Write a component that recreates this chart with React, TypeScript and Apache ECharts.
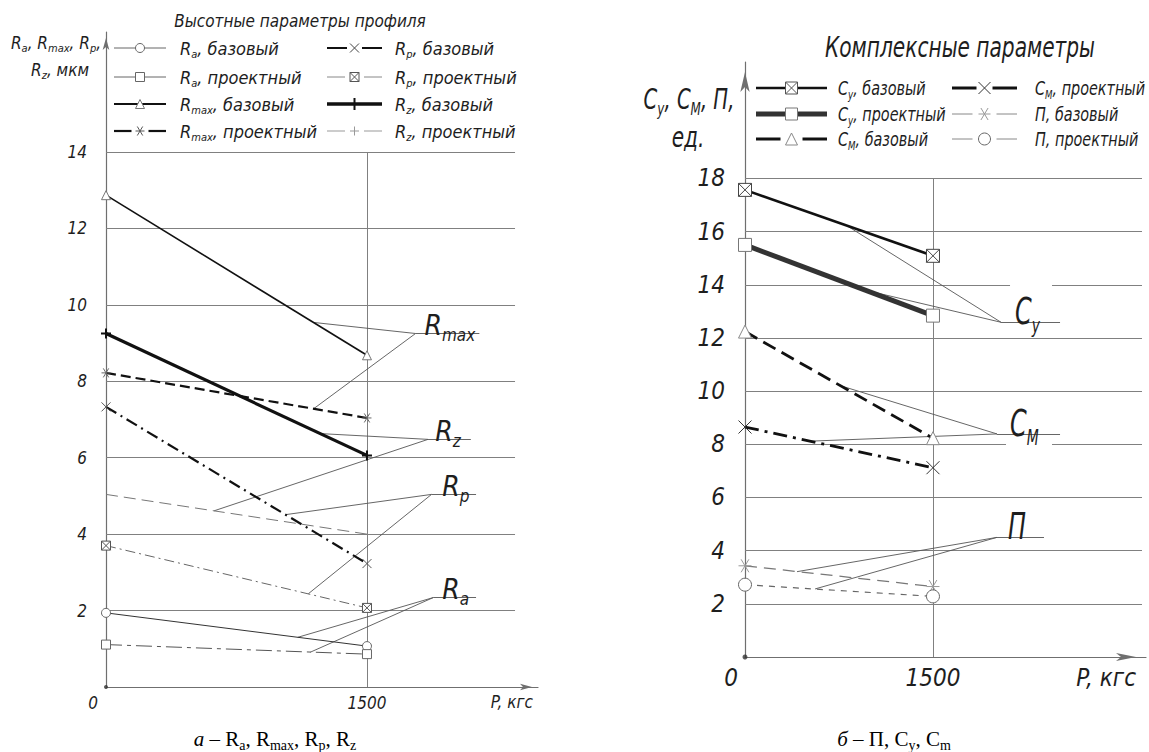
import { useEffect, useRef } from 'react';
import * as echarts from 'echarts';

const FONT = "'Liberation Sans Narrow', 'DejaVu Sans Condensed', 'Liberation Sans', sans-serif";
const SERIF = "'Liberation Serif', 'DejaVu Serif', 'Times New Roman', serif";
const AXIS_COLOR = '#6f6f6f';
const GRID_COLOR = '#808080';
const TEXT_COLOR = '#1e1e1e';

// load P, kgf (shared by both panels)
const loads = [0, 1500];

// Left panel: height parameters of the profile, µm
const raBase = [1.94, 1.07];
const raProj = [1.11, 0.86];
const rmaxBase = [12.87, 8.68];
const rmaxProj = [8.22, 7.04];
const rpBase = [7.33, 3.23];
const rpProj = [3.7, 2.07];
const rzBase = [9.25, 6.06];
const rzProj = [5.04, 4.0];
const leftTicks = [2, 4, 6, 8, 10, 12, 14];

// Right panel: complex parameters
const cyBase = [17.57, 15.09];
const cyProj = [15.5, 12.84];
const cmBase = [12.24, 8.23];
const cmProj = [8.65, 7.12];
const pBase = [3.43, 2.65];
const pProj = [2.72, 2.28];
const rightTicks = [2, 4, 6, 8, 10, 12, 14, 16, 18];

// axis extents (data units)
const LX = { xMax: 2483, gridEnd: 2351, yMax: 17.14, vTop: 14 };
const RX = { xMax: 3200, gridEnd: 3168, yMax: 22.38, vTop: 18 };
const rightGaps: Record<number, number[]> = { 14: [2115, 2450], 8: [2083, 2450] };

// callout leaders (data units): underline start, underline end, text start, leader targets
const leftCallouts = [
  { sub: 'max', base: [1779, 9.25], end: 2146, textX: 1830, targets: [[1193, 9.54], [1193, 7.28]] },
  { sub: 'z', base: [1851, 6.48], end: 2097, textX: 1892, targets: [[1236, 6.63], [621, 4.61]] },
  { sub: 'p', base: [1871, 5.04], end: 2127, textX: 1932, targets: [[1032, 4.51], [1163, 2.44]] },
  { sub: 'a', base: [1881, 2.34], end: 2127, textX: 1932, targets: [[1102, 1.3], [1174, 0.91]] },
];
const rightCallouts = [
  { main: 'C', sub: 'y', base: [2043, 12.59], end: 2514, textX: 2155, targets: [[814, 16.22], [958, 13.8]] },
  { main: 'C', sub: 'M', base: [2011, 8.39], end: 2514, textX: 2115, targets: [[758, 10.21], [527, 8.12]] },
  { main: 'П', sub: '', base: [2011, 4.5], end: 2386, textX: 2099, targets: [[415, 3.21], [559, 2.56]] },
];

const SYM = {
  x: 'path://M0 0 L10 10 M0 10 L10 0',
  plus: 'path://M5 0 L5 10 M0 5 L10 5',
  boxX: 'path://M0 0 L10 0 L10 10 L0 10 Z M0 0 L10 10 M0 10 L10 0',
  star: 'path://M0 5 L10 5 M2 0 L8 10 M2 10 L8 0',
};

function lineSeries(name: string, idx: number, vals: number[], color: string, width: number, type: any,
  symbol: string, size: number, mkColor: string, mkWidth = 1) {
  return {
    type: 'line', name, xAxisIndex: idx, yAxisIndex: idx, silent: true, z: 5,
    data: loads.map((x, i) => [x, vals[i]]),
    symbol, symbolSize: size, showSymbol: symbol !== 'none',
    lineStyle: { color, width, type, cap: 'butt' },
    itemStyle: { color: '#fff', borderColor: mkColor, borderWidth: mkWidth },
    emphasis: { disabled: true },
  };
}

function segSeries(idx: number, segs: number[][][], color: string, width: number, z = 1) {
  return {
    type: 'lines', coordinateSystem: 'cartesian2d', xAxisIndex: idx, yAxisIndex: idx, silent: true, z,
    polyline: false,
    lineStyle: { color, width, opacity: 1, curveness: 0 },
    data: segs.map((c) => ({ coords: c })),
  };
}

function gridSegs(ticks: number[], end: number, vTop: number, gaps: Record<number, number[]>) {
  const out: number[][][] = [];
  ticks.forEach((v) => {
    const g = gaps[v];
    if (g) {
      out.push([[0, v], [g[0], v]]);
      out.push([[g[1], v], [end, v]]);
    } else out.push([[0, v], [end, v]]);
  });
  out.push([[1500, 0], [1500, vTop]]);
  return out;
}

function leaderSegs(callouts: any[]) {
  const out: number[][][] = [];
  callouts.forEach((c) => {
    out.push([[c.base[0], c.base[1]], [c.end, c.base[1]]]);
    c.targets.forEach((t: number[]) => out.push([[c.base[0], c.base[1]], t]));
  });
  return out;
}

const lblFont = (fs: number) => ({ fontFamily: FONT, fontStyle: 'italic', fontSize: fs, color: TEXT_COLOR });

function buildOption(): any {
  return {
    animation: false,
    backgroundColor: '#fff',
    grid: [
      { left: 106, top: 32, width: 432, height: 655 },
      { left: 745, top: 62, width: 401, height: 595 },
    ],
    xAxis: [
      {
        gridIndex: 0, type: 'value', min: 0, max: LX.xMax, interval: 1500,
        axisLine: { show: true, lineStyle: { color: AXIS_COLOR, width: 1.2 }, symbol: ['none', 'arrow'], symbolSize: [5, 12], symbolOffset: [0, -6] },
        axisTick: { show: false }, splitLine: { show: false },
        axisLabel: {
          ...lblFont(17), margin: 7,
          formatter: (v: number) => (v === 0 ? '{z|0}' : v === 1500 ? '1500' : ''),
          rich: { z: { ...lblFont(17), padding: [0, 26, 0, 0] } },
        },
      },
      {
        gridIndex: 1, type: 'value', min: 0, max: RX.xMax, interval: 1500,
        axisLine: { show: true, lineStyle: { color: AXIS_COLOR, width: 1.2 }, symbol: ['none', 'arrow'], symbolSize: [6, 20], symbolOffset: [0, -10] },
        axisTick: { show: false }, splitLine: { show: false },
        axisLabel: {
          ...lblFont(24), margin: 9,
          formatter: (v: number) => (v === 0 ? '{z|0}' : v === 1500 ? '1500' : ''),
          rich: { z: { ...lblFont(24), padding: [0, 28, 0, 0] } },
        },
      },
    ],
    yAxis: [
      {
        gridIndex: 0, type: 'value', min: 0, max: LX.yMax, interval: 2,
        axisLine: { show: true, lineStyle: { color: AXIS_COLOR, width: 1.2 }, symbol: ['none', 'arrow'], symbolSize: [5, 12], symbolOffset: [0, -6] },
        axisTick: { show: false }, splitLine: { show: false },
        axisLabel: { ...lblFont(17), margin: 19, formatter: (v: number) => (v > 0 && v <= 14 ? String(v) : '') },
      },
      {
        gridIndex: 1, type: 'value', min: 0, max: RX.yMax, interval: 2,
        axisLine: { show: true, lineStyle: { color: AXIS_COLOR, width: 1.2 }, symbol: ['none', 'arrow'], symbolSize: [7, 20], symbolOffset: [0, -10] },
        axisTick: { show: false }, splitLine: { show: false },
        axisLabel: { ...lblFont(24), margin: 20, formatter: (v: number) => (v > 0 && v <= 18 ? String(v) : '') },
      },
    ],
    series: [
      segSeries(0, gridSegs(leftTicks, LX.gridEnd, LX.vTop, {}), GRID_COLOR, 1),
      segSeries(1, gridSegs(rightTicks, RX.gridEnd, RX.vTop, rightGaps), GRID_COLOR, 1),
      segSeries(0, leaderSegs(leftCallouts), '#555', 0.9, 2),
      segSeries(1, leaderSegs(rightCallouts), '#555', 0.9, 2),

      lineSeries('Ra, базовый', 0, raBase, '#333', 1, 'solid', 'circle', 9, '#666'),
      lineSeries('Ra, проектный', 0, raProj, '#555', 1, [16, 5, 4, 5], 'rect', 9, '#666'),
      lineSeries('Rmax, базовый', 0, rmaxBase, '#111', 1.6, 'solid', 'triangle', 9, '#777'),
      lineSeries('Rmax, проектный', 0, rmaxProj, '#111', 2.2, [10, 5], SYM.star, 9, '#666'),
      lineSeries('Rp, базовый', 0, rpBase, '#111', 2.2, [12, 5, 2, 5], SYM.x, 9, '#555'),
      lineSeries('Rp, проектный', 0, rpProj, '#666', 1, [10, 4, 2, 4], SYM.boxX, 9, '#555'),
      lineSeries('Rz, базовый', 0, rzBase, '#111', 3.2, 'solid', SYM.plus, 10, '#111', 2),
      lineSeries('Rz, проектный', 0, rzProj, '#777', 1, [12, 6], 'none', 8, '#777'),

      lineSeries('Cy, базовый', 1, cyBase, '#111', 2.6, 'solid', SYM.boxX, 13, '#444'),
      lineSeries('Cy, проектный', 1, cyProj, '#333', 5, 'solid', 'rect', 13, '#777'),
      lineSeries('CM, базовый', 1, cmBase, '#111', 2.8, [14, 7], 'triangle', 13, '#888'),
      lineSeries('CM, проектный', 1, cmProj, '#111', 2.8, [14, 6, 3, 6], SYM.x, 13, '#333'),
      lineSeries('П, базовый', 1, pBase, '#777', 1.3, [12, 7], SYM.star, 13, '#999'),
      lineSeries('П, проектный', 1, pProj, '#666', 1.2, [6, 6], 'circle', 13, '#666'),

      { type: 'scatter', xAxisIndex: 0, yAxisIndex: 0, data: [[0, 0]], symbolSize: 4, itemStyle: { color: '#333' }, silent: true, z: 6 },
      { type: 'scatter', xAxisIndex: 1, yAxisIndex: 1, data: [[0, 0]], symbolSize: 5, itemStyle: { color: '#333' }, silent: true, z: 6 },
    ],
  };
}

// ---------- graphic helpers ----------
function richStyles(M: number, S: number, family = FONT, italic = true, fill = TEXT_COLOR) {
  const fs = italic ? 'italic' : 'normal';
  return {
    m: { fontSize: M, lineHeight: Math.round(M * 1.3), fontFamily: family, fontStyle: fs, fill },
    i: { fontSize: M, lineHeight: Math.round(M * 1.3), fontFamily: family, fontStyle: 'italic', fill },
    s: { fontSize: S, lineHeight: S, verticalAlign: 'bottom', fontFamily: family, fontStyle: fs, fill },
  };
}

function rtext(x: number, y: number, parts: string[][], M: number, S: number, align = 'left', vAlign = 'middle',
  opt: any = {}) {
  return {
    type: 'text', x, y, scaleX: opt.scaleX ?? 1, z: 60, silent: true,
    style: {
      text: parts.map(([t, k]) => `{${k}|${t}}`).join(''),
      align, verticalAlign: vAlign,
      rich: richStyles(M, S, opt.family ?? FONT, opt.italic ?? true, opt.fill ?? TEXT_COLOR),
    },
  };
}

function marker(kind: string, cx: number, cy: number, s: number, stroke: string, lw: number): any[] {
  const h = s / 2;
  const st = { stroke, lineWidth: lw, fill: '#fff' };
  const ln = (x1: number, y1: number, x2: number, y2: number) =>
    ({ type: 'line', z: 62, silent: true, shape: { x1, y1, x2, y2 }, style: { stroke, lineWidth: lw } });
  switch (kind) {
    case 'circle': return [{ type: 'circle', z: 61, silent: true, shape: { cx, cy, r: h }, style: st }];
    case 'rect': return [{ type: 'rect', z: 61, silent: true, shape: { x: cx - h, y: cy - h, width: s, height: s }, style: st }];
    case 'tri': return [{ type: 'polygon', z: 61, silent: true, shape: { points: [[cx, cy - h], [cx + h, cy + h], [cx - h, cy + h]] }, style: st }];
    case 'x': return [ln(cx - h, cy - h, cx + h, cy + h), ln(cx - h, cy + h, cx + h, cy - h)];
    case 'plus': return [ln(cx, cy - h, cx, cy + h), ln(cx - h, cy, cx + h, cy)];
    case 'star': return [ln(cx - h, cy, cx + h, cy), ln(cx - 0.6 * h, cy - h, cx + 0.6 * h, cy + h), ln(cx - 0.6 * h, cy + h, cx + 0.6 * h, cy - h)];
    case 'boxX': return [
      { type: 'rect', z: 61, silent: true, shape: { x: cx - h, y: cy - h, width: s, height: s }, style: st },
      ln(cx - h, cy - h, cx + h, cy + h), ln(cx - h, cy + h, cx + h, cy - h)];
    default: return [];
  }
}

function legendItem(x1: number, x2: number, cy: number, it: any): any[] {
  const mx = (x1 + x2) / 2;
  const out: any[] = [];
  const ls = { stroke: it.stroke, lineWidth: it.w, lineDash: it.dash ?? null };
  if (it.gap) {
    const g = it.ms / 2 + it.gap;
    out.push({ type: 'line', z: 60, silent: true, shape: { x1, y1: cy, x2: mx - g, y2: cy }, style: ls });
    out.push({ type: 'line', z: 60, silent: true, shape: { x1: mx + g, y1: cy, x2, y2: cy }, style: ls });
  } else {
    out.push({ type: 'line', z: 60, silent: true, shape: { x1, y1: cy, x2, y2: cy }, style: ls });
  }
  out.push(...marker(it.mk, mx, cy, it.ms, it.mc, it.mw ?? 1));
  return out;
}

const leftLegend = [
  { parts: [['R', 'm'], ['a', 's'], [', базовый', 'm']], col: 0, row: 0, stroke: '#666', w: 1, mk: 'circle', ms: 9, mc: '#666' },
  { parts: [['R', 'm'], ['a', 's'], [', проектный', 'm']], col: 0, row: 1, stroke: '#666', w: 1, mk: 'rect', ms: 9, mc: '#666' },
  { parts: [['R', 'm'], ['max', 's'], [', базовый', 'm']], col: 0, row: 2, stroke: '#111', w: 2, mk: 'tri', ms: 9, mc: '#777' },
  { parts: [['R', 'm'], ['max', 's'], [', проектный', 'm']], col: 0, row: 3, stroke: '#111', w: 2.2, mk: 'star', ms: 9, mc: '#555', gap: 4 },
  { parts: [['R', 'm'], ['p', 's'], [', базовый', 'm']], col: 1, row: 0, stroke: '#111', w: 2, mk: 'x', ms: 9, mc: '#444', gap: 3 },
  { parts: [['R', 'm'], ['p', 's'], [', проектный', 'm']], col: 1, row: 1, stroke: '#888', w: 1, mk: 'boxX', ms: 9, mc: '#555', gap: 5 },
  { parts: [['R', 'm'], ['z', 's'], [', базовый', 'm']], col: 1, row: 2, stroke: '#111', w: 3.5, mk: 'plus', ms: 12, mc: '#111', mw: 2 },
  { parts: [['R', 'm'], ['z', 's'], [', проектный', 'm']], col: 1, row: 3, stroke: '#999', w: 1, mk: 'plus', ms: 9, mc: '#999', gap: 5 },
];
const rightLegend = [
  { parts: [['C', 'm'], ['y', 's'], [', базовый', 'm']], col: 0, row: 0, stroke: '#111', w: 2.5, mk: 'boxX', ms: 12, mc: '#555' },
  { parts: [['C', 'm'], ['y', 's'], [', проектный', 'm']], col: 0, row: 1, stroke: '#333', w: 5, mk: 'rect', ms: 12, mc: '#777' },
  { parts: [['C', 'm'], ['M', 's'], [', базовый', 'm']], col: 0, row: 2, stroke: '#111', w: 3, mk: 'tri', ms: 12, mc: '#888', gap: 5 },
  { parts: [['C', 'm'], ['M', 's'], [', проектный', 'm']], col: 1, row: 0, stroke: '#111', w: 3, mk: 'x', ms: 12, mc: '#333', gap: 2 },
  { parts: [['П, базовый', 'm']], col: 1, row: 1, stroke: '#888', w: 1, mk: 'star', ms: 12, mc: '#999', gap: 6 },
  { parts: [['П, проектный', 'm']], col: 1, row: 2, stroke: '#888', w: 1, mk: 'circle', ms: 12, mc: '#666', gap: 6 },
];

function buildGraphics(chart: any): any[] {
  const els: any[] = [];
  // titles
  els.push(rtext(300, 21, [['Высотные параметры профиля', 'm']], 17, 11, 'center', 'middle'));
  els.push(rtext(960, 47, [['Комплексные параметры', 'm']], 28, 18, 'center', 'middle', { scaleX: 0.8 }));

  // axis names
  els.push(rtext(56, 43, [['R', 'm'], ['a', 's'], [', R', 'm'], ['max', 's'], [', R', 'm'], ['p', 's'], [',', 'm']], 17, 11, 'center', 'middle'));
  els.push(rtext(60, 70, [['R', 'm'], ['z', 's'], [', мкм', 'm']], 17, 11, 'center', 'middle'));
  els.push(rtext(689, 100, [['C', 'm'], ['y', 's'], [', C', 'm'], ['M', 's'], [', П,', 'm']], 28, 17, 'center', 'middle', { scaleX: 0.78 }));
  els.push(rtext(688, 137, [['ед.', 'm']], 28, 17, 'center', 'middle', { scaleX: 0.8 }));

  // x-axis names
  els.push(rtext(533, 702, [['P, кгс', 'm']], 17, 11, 'right', 'middle'));
  els.push(rtext(1136, 678, [['P, кгс', 'm']], 24, 15, 'right', 'middle'));

  // legends
  const lCols = [[114, 166, 180], [327, 382, 395]];
  const lRows = [48, 77, 104, 131];
  leftLegend.forEach((it) => {
    const [x1, x2, tx] = lCols[it.col];
    const cy = lRows[it.row];
    els.push(...legendItem(x1, x2, cy, it));
    els.push(rtext(tx, cy, it.parts, 18, 11, 'left', 'middle'));
  });
  const rCols = [[756, 827, 838], [952, 1017, 1035]];
  const rRows = [88, 114, 139];
  rightLegend.forEach((it) => {
    const [x1, x2, tx] = rCols[it.col];
    const cy = rRows[it.row];
    els.push(...legendItem(x1, x2, cy, it));
    els.push(rtext(tx, cy, it.parts, 20, 12, 'left', 'middle', { scaleX: 0.8 }));
  });

  // callout labels, positioned through the axes
  leftCallouts.forEach((c) => {
    const p = chart.convertToPixel({ xAxisIndex: 0, yAxisIndex: 0 }, [c.textX, c.base[1]]);
    const M = 28;
    els.push(rtext(p[0], p[1] - 0.95 * M + 1, [['R', 'm'], [c.sub, 's']], M, 17, 'left', 'top'));
  });
  rightCallouts.forEach((c) => {
    const p = chart.convertToPixel({ xAxisIndex: 1, yAxisIndex: 1 }, [c.textX, c.base[1]]);
    const M = 38;
    const parts = c.sub ? [[c.main, 'm'], [c.sub, 's']] : [[c.main, 'm']];
    els.push(rtext(p[0], p[1] - 0.95 * M + 1, parts, M, 22, 'left', 'top', { scaleX: 0.7 }));
  });

  // captions
  els.push(rtext(275, 739, [['а', 'i'], [' – R', 'm'], ['a', 's'], [', R', 'm'], ['max', 's'], [', R', 'm'], ['p', 's'], [', R', 'm'], ['z', 's']], 21, 14, 'center', 'middle', { family: SERIF, italic: false, fill: '#000' }));
  els.push(rtext(894, 739, [['б', 'i'], [' – П, C', 'm'], ['y', 's'], [', C', 'm'], ['m', 's']], 21, 14, 'center', 'middle', { family: SERIF, italic: false, fill: '#000' }));
  return els;
}

export default function App() {
  const ref = useRef<HTMLDivElement>(null);
  useEffect(() => {
    const el = ref.current;
    if (!el) return;
    const chart = echarts.init(el, null, { renderer: 'svg' });
    chart.setOption(buildOption());
    chart.setOption({ graphic: buildGraphics(chart) });
    return () => chart.dispose();
  }, []);
  return <div ref={ref} style={{ position: 'fixed', left: 0, top: 0, width: 1149, height: 752, background: '#fff' }} />;
}
